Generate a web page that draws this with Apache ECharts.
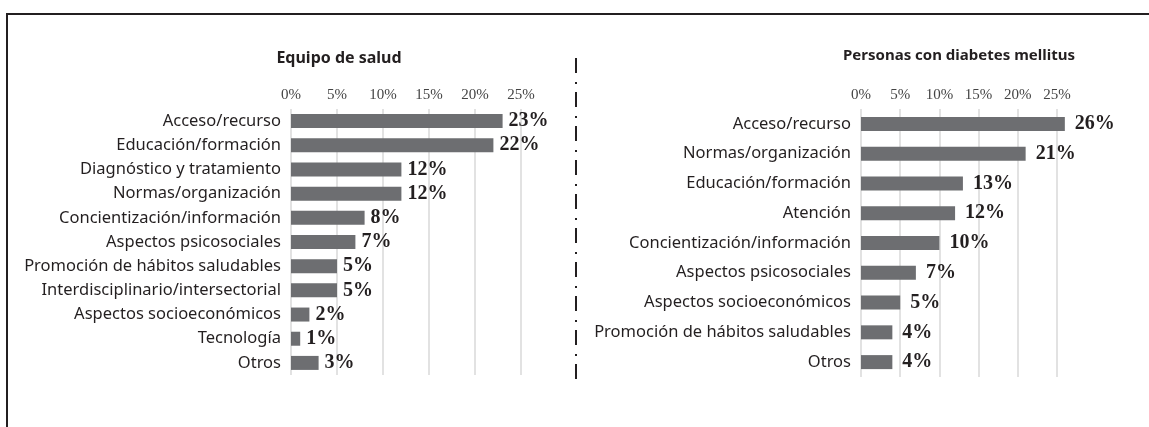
<!DOCTYPE html>
<html>
<head>
<meta charset="utf-8">
<script src="https://cdn.jsdelivr.net/npm/echarts@6/dist/echarts.min.js"></script>
<style>
  html, body { margin: 0; padding: 0; background: #fff; }
  #chart { width: 1149px; height: 427px; }
</style>
</head>
<body>
<div id="chart"></div>
<script>
var leftCats = ['Acceso/recurso', 'Educación/formación', 'Diagnóstico y tratamiento', 'Normas/organización',
    'Concientización/información', 'Aspectos psicosociales', 'Promoción de hábitos saludables',
    'Interdisciplinario/intersectorial', 'Aspectos socioeconómicos', 'Tecnología', 'Otros'];
var leftVals = [23, 22, 12, 12, 8, 7, 5, 5, 2, 1, 3];

var rightCats = ['Acceso/recurso', 'Normas/organización', 'Educación/formación', 'Atención',
    'Concientización/información', 'Aspectos psicosociales', 'Aspectos socioeconómicos',
    'Promoción de hábitos saludables', 'Otros'];
var rightVals = [26, 21, 13, 12, 10, 7, 5, 4, 4];

var leftTitle = 'Equipo de salud';
var rightTitle = 'Personas con diabetes mellitus';

var box = echarts.init(document.getElementById('chart'));

var dark = '#231f20';
var barColor = '#6d6e71';

function valueAxis(idx) {
    return {
        type: 'value',
        gridIndex: idx,
        position: 'top',
        min: 0,
        max: 25,
        interval: 5,
        axisLine: { show: false },
        axisTick: { show: false },
        axisLabel: {
            formatter: '{value}%',
            margin: 6,
            color: '#444',
            fontFamily: 'Liberation Sans Narrow',
            fontSize: 15
        },
        splitLine: { lineStyle: { color: '#d9d9d9', width: 1.5 } }
    };
}

function catAxis(idx, cats) {
    return {
        type: 'category',
        gridIndex: idx,
        inverse: true,
        data: cats,
        axisLine: { show: false },
        axisTick: { show: false },
        axisLabel: {
            margin: 10,
            color: dark,
            fontFamily: 'Noto Sans',
            fontSize: 16.5
        }
    };
}

function barSeries(idx, vals, width, dist) {
    return {
        type: 'bar',
        xAxisIndex: idx,
        yAxisIndex: idx,
        data: vals,
        barWidth: width,
        clip: false,
        itemStyle: { color: barColor },
        label: {
            show: true,
            position: 'right',
            distance: dist,
            formatter: '{c}%',
            color: dark,
            fontFamily: 'Liberation Serif',
            fontWeight: 'bold',
            fontSize: 20
        }
    };
}

option = {
    animation: false,
    title: [
        {
            text: leftTitle,
            left: 339,
            top: 50,
            textAlign: 'center',
            padding: 0,
            textStyle: { fontFamily: 'Noto Sans', fontWeight: 'bold', fontSize: 16, color: dark }
        },
        {
            text: rightTitle,
            left: 959,
            top: 48,
            textAlign: 'center',
            padding: 0,
            textStyle: { fontFamily: 'Noto Sans', fontWeight: 'bold', fontSize: 15, color: dark }
        }
    ],
    grid: [
        { left: 291, width: 230, top: 109, height: 266 },
        { left: 861, width: 196, top: 109, height: 268 }
    ],
    xAxis: [valueAxis(0), valueAxis(1)],
    yAxis: [catAxis(0, leftCats), catAxis(1, rightCats)],
    series: [
        barSeries(0, leftVals, 14, 6),
        barSeries(1, rightVals, 14, 10)
    ],
    graphic: [
        {
            type: 'polyline',
            shape: { points: [[7, 427], [7, 14], [1149, 14]] },
            style: { stroke: dark, lineWidth: 2, fill: null }
        },
        {
            type: 'line',
            shape: { x1: 576, y1: 58, x2: 576, y2: 386 },
            style: { stroke: dark, lineWidth: 2, lineDash: [15, 9, 2, 8] }
        }
    ]
};
box.setOption(option);
</script>
</body>
</html>
